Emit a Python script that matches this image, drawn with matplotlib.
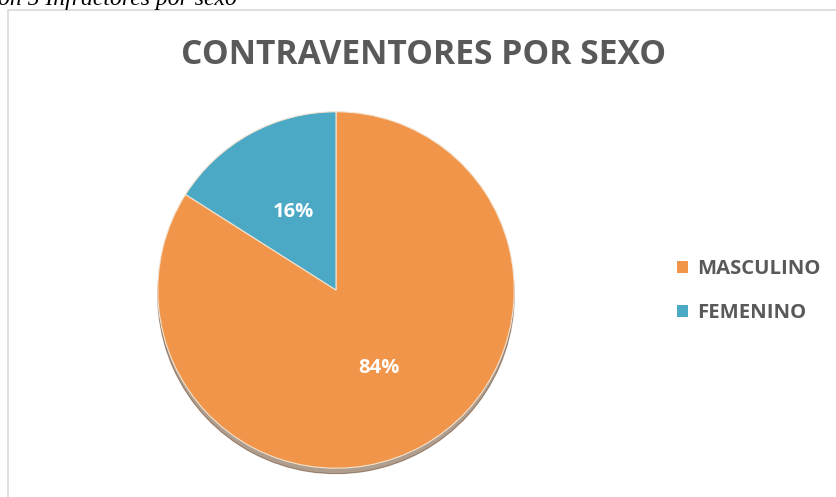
import matplotlib
matplotlib.use('Agg')
import matplotlib.pyplot as plt
from matplotlib.patches import Rectangle

# Data
categories = ['MASCULINO', 'FEMENINO']
percentages = [84, 16]
colors = ['#F0954A', '#4BA9C6']

W, H = 836, 497
fig = plt.figure(figsize=(W / 100, H / 100), dpi=100)
fig.patch.set_facecolor('white')

# chart frame (right and bottom edges run off the image)
fig.patches.append(Rectangle((8 / W, -0.01), 1.0, 1 - 10 / H + 0.01,
                             transform=fig.transFigure, fill=False,
                             edgecolor='#D9D9D9', linewidth=1.2))

# caption from the document, clipped at the top like in the source
fig.text(-2 / W, 1 - 5 / H, 'ón 5 Infractores por sexo', family='Liberation Serif',
         style='italic', fontsize=17, color='black', va='baseline', ha='left')

fig.text(424 / W, 1 - 55 / H, 'CONTRAVENTORES POR SEXO', family='Open Sans',
         fontweight='bold', fontsize=24.2, color='#595959', ha='center', va='center')

# pie
cx, cy, r = 336, 290, 180
ax = fig.add_axes([(cx - r) / W, (H - cy - r) / H, 2 * r / W, 2 * r / H])
wedges, texts, autotexts = ax.pie(
    percentages, colors=colors, startangle=90, counterclock=False,
    autopct='%1.0f%%', pctdistance=0.5,
    wedgeprops=dict(edgecolor='#F3E3D0', linewidth=0.8),
    shadow=dict(ox=0.0, oy=-0.022, shade=0.6),
    textprops=dict(color='white', fontsize=14.5, fontweight='bold', family='Open Sans'))
ax.set_xlim(-1.01, 1.01)
ax.set_ylim(-1.01, 1.01)
ax.set_aspect('equal')
ax.axis('off')

# legend
leg = fig.legend(wedges, categories, loc='center left',
                 bbox_to_anchor=(659 / W, 1 - 291 / H), frameon=False,
                 handlelength=0.55, handleheight=0.55, handletextpad=0.45,
                 labelspacing=1.2,
                 prop=dict(family='Open Sans', weight='bold', size=14.6))
for t in leg.get_texts():
    t.set_color('#595959')
for h in leg.legend_handles:
    h.set_edgecolor('none')

plt.savefig('out.png', dpi=100)
